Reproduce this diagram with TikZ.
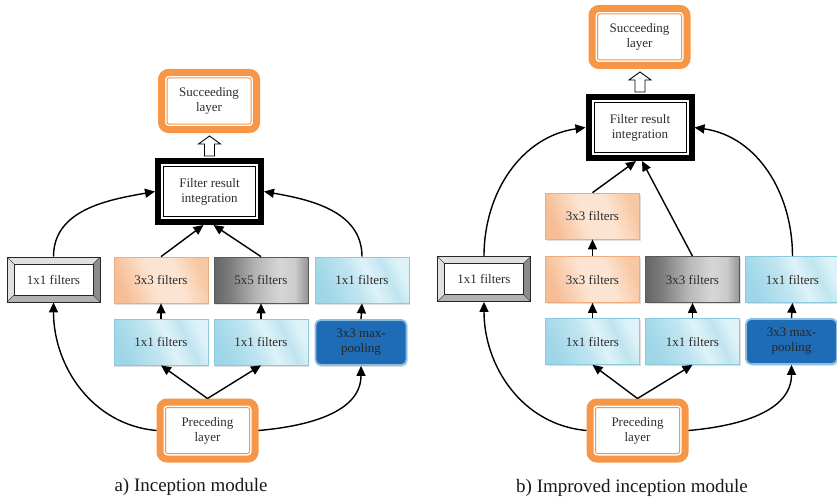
\documentclass[tikz,border=0pt]{standalone}
\usepackage{fontspec}
\setmainfont{Liberation Serif}
\usetikzlibrary{arrows.meta,calc,shadows}
\definecolor{orng}{RGB}{247,150,70}
\definecolor{txt}{RGB}{45,45,45}
\definecolor{orA}{RGB}{246,188,148}
\definecolor{orB}{RGB}{252,228,210}
\definecolor{orC}{RGB}{248,200,164}
\definecolor{orD}{RGB}{236,172,125}
\definecolor{blA}{RGB}{158,214,232}
\definecolor{blB}{RGB}{222,242,248}
\definecolor{blC}{RGB}{192,229,240}
\definecolor{blD}{RGB}{140,200,222}
\definecolor{poolF}{RGB}{30,108,182}
\definecolor{poolD}{RGB}{140,190,226}
\pgfdeclarehorizontalshading{metalsh}{100bp}{color(0bp)=(black!60); color(25bp)=(black!60); color(33bp)=(black!52); color(48bp)=(black!28); color(60bp)=(black!16); color(68bp)=(black!20); color(75bp)=(black!42); color(100bp)=(black!42)}
\pgfdeclarehorizontalshading{bluesh}{100bp}{color(0bp)=(blA); color(25bp)=(blA); color(45bp)=(blC); color(55bp)=(blB); color(66bp)=(blC); color(75bp)=(blB); color(100bp)=(blB)}
\pgfdeclarehorizontalshading{orsh}{100bp}{color(0bp)=(orA); color(25bp)=(orA); color(45bp)=(orB); color(60bp)=(orB); color(75bp)=(orC); color(100bp)=(orC)}
\newcommand\hollowup[1]{\draw[line width=0.9pt, fill=white] ($(#1)+(-5,2)$) -- ($(#1)+(-5,14)$) -- ($(#1)+(-11,14)$) -- ($(#1)+(0,22)$) -- ($(#1)+(11,14)$) -- ($(#1)+(5,14)$) -- ($(#1)+(5,2)$) -- cycle;}
\begin{document}
\begin{tikzpicture}[x=1pt,y=1pt,
  every node/.style={text=txt, font=\fontsize{13}{15}\selectfont, align=center, inner sep=0pt},
  layerbox/.style={draw=orng, line width=7pt, rounded corners=7pt, fill=white,
    minimum width=95pt, minimum height=57pt,
    path picture={\draw[orng, line width=1pt, rounded corners=2pt]
      ($(path picture bounding box.south west)+(5.5,5.5)$) rectangle
      ($(path picture bounding box.north east)+(-5.5,-5.5)$);}},
  integbox/.style={draw=black, line width=6pt, fill=white,
    minimum width=103pt, minimum height=61pt,
    path picture={\draw[black, line width=1pt]
      ($(path picture bounding box.south west)+(5.5,5.5)$) rectangle
      ($(path picture bounding box.north east)+(-5.5,-5.5)$);}},
  fbox/.style={minimum width=94pt, minimum height=46pt, line width=0.7pt,
    drop shadow={shadow xshift=1.2pt, shadow yshift=-1.8pt, opacity=0.25}},
  orbox/.style={fbox, draw=orD, shading=orsh, shading angle=20},
  graybox/.style={fbox, draw=black!65, shading=metalsh},
  bluebox/.style={fbox, draw=blD, shading=bluesh, shading angle=25},
  poolbox/.style={fbox, minimum width=91pt, minimum height=45pt, line width=1.8pt,
    rounded corners=5pt, draw=poolD, fill=poolF, text=black!85},
  bevelbox/.style={draw=black!85, line width=0.8pt, fill=black!12,
    minimum width=93pt, minimum height=45pt,
    path picture={
      \coordinate (sw) at (path picture bounding box.south west);
      \coordinate (ne) at (path picture bounding box.north east);
      \coordinate (se) at (path picture bounding box.south east);
      \coordinate (nw) at (path picture bounding box.north west);
      \fill[black!45] (ne) -- ($(ne)+(-7,-7)$) -- ($(se)+(-7,7)$) -- (se) -- cycle;
      \fill[black!30] (sw) -- ($(sw)+(7,7)$) -- ($(se)+(-7,7)$) -- (se) -- cycle;
      \draw[black!70, line width=0.5pt] (sw) -- ($(sw)+(7,7)$) (se) -- ($(se)+(-7,7)$)
        (ne) -- ($(ne)+(-7,-7)$) (nw) -- ($(nw)+(7,-7)$);
      \draw[black!85, line width=0.8pt, fill=white] ($(sw)+(7,7)$) rectangle ($(ne)+(-7,-7)$);}},
  caption/.style={font=\fontsize{19}{22}\selectfont, text=black!90},
  arr/.style={line width=1.4pt, -{Triangle[length=10pt,width=9pt]}}
]
\useasboundingbox (0,0) rectangle (837,-500);

% ---------------- a) Inception module ----------------
\node[layerbox] (sucA) at (209,-101) {Succeeding\\layer};
\node[integbox] (intA) at (209.5,-191.5) {Filter result\\integration};
\node[bevelbox] (b1A) at (53.5,-279.5) {1x1 filters};
\node[orbox] (o3A) at (161,-280) {3x3 filters};
\node[graybox] (g5A) at (261,-280) {5x5 filters};
\node[bluebox] (c1A) at (362,-280) {1x1 filters};
\node[bluebox] (r1A) at (161,-342) {1x1 filters};
\node[bluebox] (r2A) at (261,-342) {1x1 filters};
\node[poolbox] (mpA) at (361,-342.5) {3x3 max-\\pooling};
\node[layerbox] (preA) at (207.5,-430.5) {Preceding\\layer};
\node[caption] (capA) at (191,-487) {a) Inception module};

\hollowup{intA.north}
\draw[arr] (b1A.north) to[out=90,in=190] (intA.west);
\draw[arr] (c1A.north) to[out=90,in=-10] (intA.east);
\draw[arr] (o3A.north) -- ($(intA.south)+(-6,0)$);
\draw[arr] (g5A.north) -- ($(intA.south)+(4,0)$);
\draw[arr] (r1A.north) -- (o3A.south);
\draw[arr] (r2A.north) -- (g5A.south);
\draw[arr] (mpA.north) -- (c1A.south);
\draw[arr] (preA.north) -- (r1A.south);
\draw[arr] (preA.north) -- (r2A.south);
\draw[arr] (preA.west) to[out=175,in=-90] (b1A.south);
\draw[arr] (preA.east) to[out=5,in=-90] (mpA.south);

% ---------------- b) Improved inception module ----------------
\node[layerbox] (sucB) at (639.5,-37) {Succeeding\\layer};
\node[integbox] (intB) at (640,-127.5) {Filter result\\integration};
\node[orbox] (topB) at (592.5,-216) {3x3 filters};
\node[bevelbox] (b1B) at (484,-279) {1x1 filters};
\node[orbox] (o3B) at (592.5,-279.5) {3x3 filters};
\node[graybox] (g3B) at (692.5,-279.5) {3x3 filters};
\node[bluebox] (c1B) at (792.5,-279.5) {1x1 filters};
\node[bluebox] (r1B) at (592.5,-341.5) {1x1 filters};
\node[bluebox] (r2B) at (692.5,-341.5) {1x1 filters};
\node[poolbox] (mpB) at (791.5,-341.5) {3x3 max-\\pooling};
\node[layerbox] (preB) at (637.5,-430.5) {Preceding\\layer};
\node[caption] (capB) at (632,-488) {b) Improved inception module};

\hollowup{intB.north}
\draw[arr] (b1B.north) to[out=90,in=188] (intB.west);
\draw[arr] (c1B.north) to[out=90,in=-8] (intB.east);
\draw[arr] (topB.north) -- ($(intB.south)+(-4,0)$);
\draw[arr] (g3B.north) -- ($(intB.south)+(2,0)$);
\draw[arr] (o3B.north) -- (topB.south);
\draw[arr] (r1B.north) -- (o3B.south);
\draw[arr] (r2B.north) -- (g3B.south);
\draw[arr] (mpB.north) -- (c1B.south);
\draw[arr] (preB.north) -- (r1B.south);
\draw[arr] (preB.north) -- (r2B.south);
\draw[arr] (preB.west) to[out=175,in=-90] (b1B.south);
\draw[arr] (preB.east) to[out=5,in=-90] (mpB.south);
\end{tikzpicture}
\end{document}
